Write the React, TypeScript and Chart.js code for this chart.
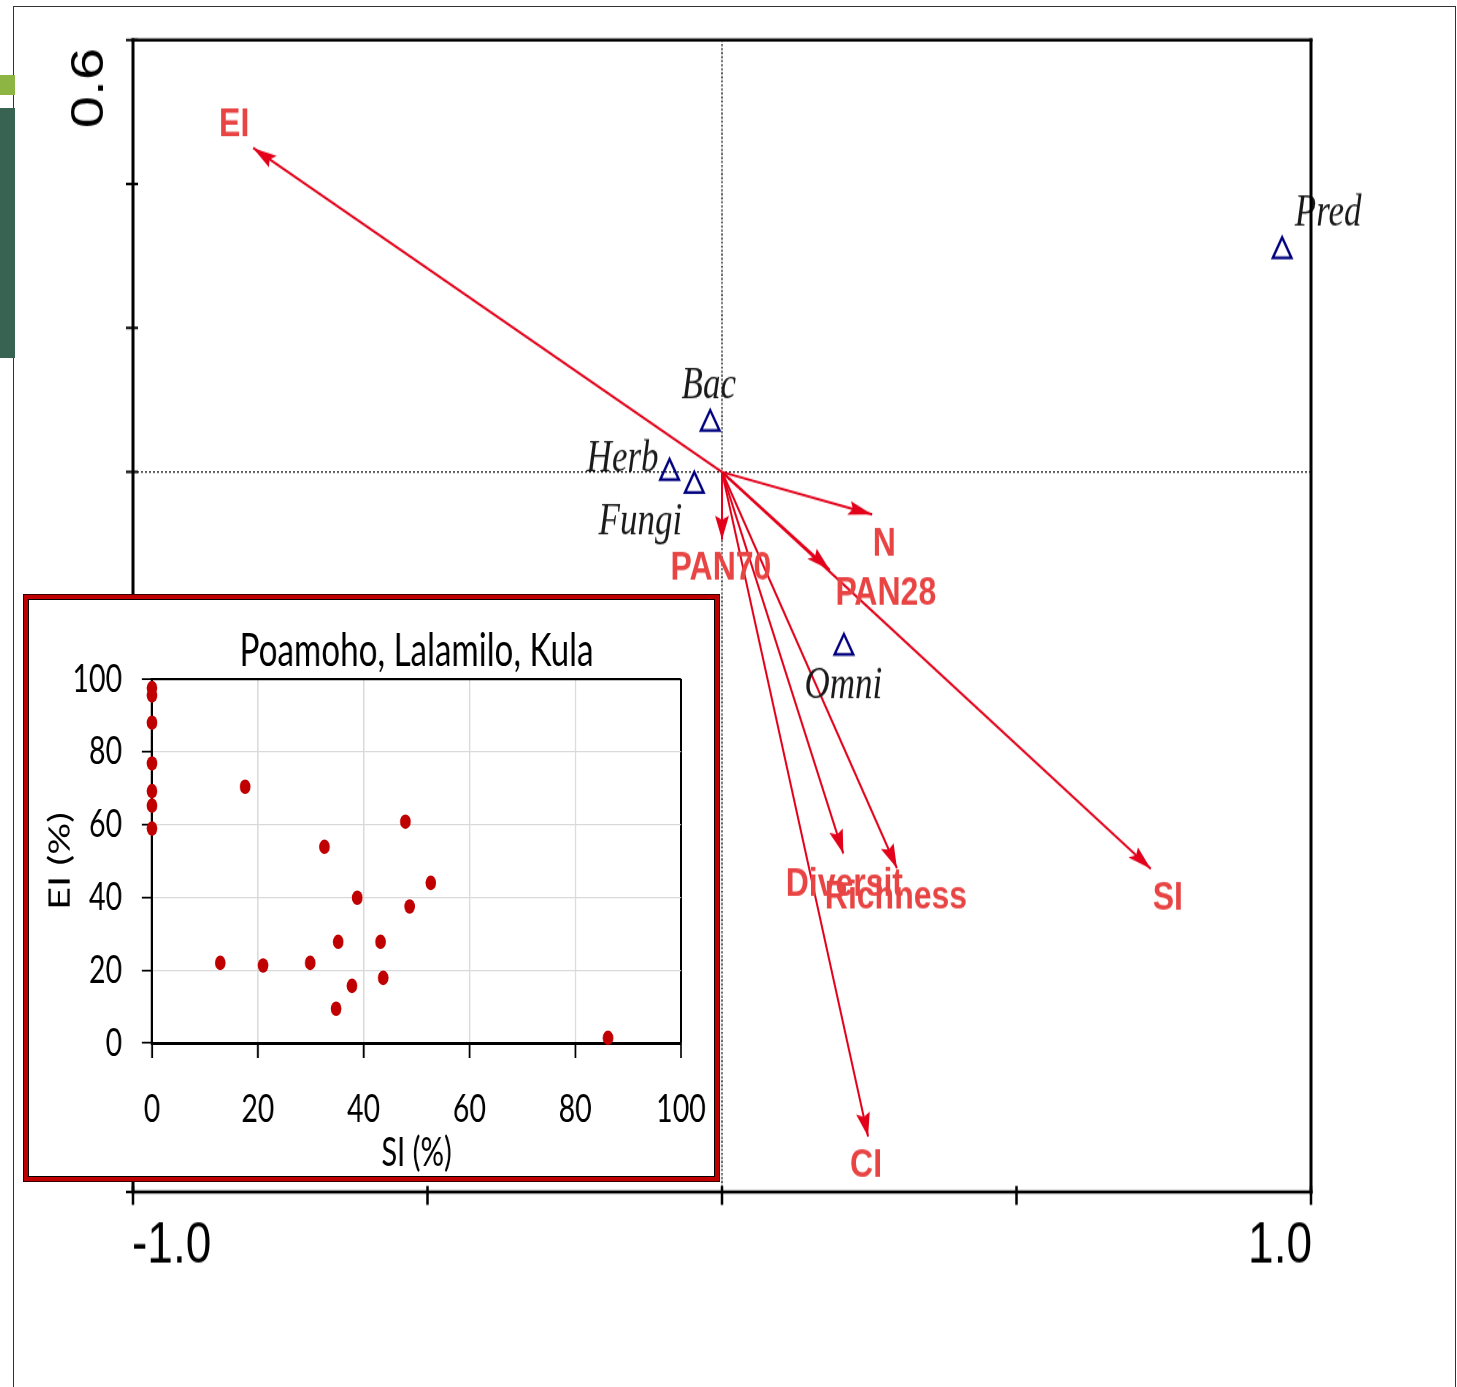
import React, { useEffect, useRef } from 'react';
import { Chart, registerables } from 'chart.js';

Chart.register(...registerables);

// ---------------- DATA: main ordination biplot ----------------
const envLabels = ['EI', 'N', 'PAN70', 'PAN28', 'Diversit', 'Richness', 'SI', 'CI'];
const envX = [-0.796, 0.255, 0.0, 0.183, 0.206, 0.297, 0.728, 0.248];
const envY = [0.45, -0.059, -0.094, -0.136, -0.53, -0.55, -0.551, -0.923];

const speciesLabels = ['Pred', 'Bac', 'Herb', 'Fungi', 'Omni'];
const speciesX = [0.951, -0.02, -0.089, -0.047, 0.207];
const speciesY = [0.307, 0.067, -0.001, -0.019, -0.244];

const mainXTicks = [-1, -0.5, 0, 0.5, 1];
const mainXTickLabels = ['-1.0', '', '', '', '1.0'];
const mainYTicks = [0.6, 0.4, 0.2, 0, -0.2, -0.4, -0.6, -0.8, -1.0];
const mainYTickLabels = ['0.6', '', '', '', '', '', '', '', ''];

// ---------------- DATA: inset scatter ----------------
const insetTitle = 'Poamoho, Lalamilo, Kula';
const insetXTitle = 'SI (%)';
const insetYTitle = 'EI (%)';
const insetTicks = [0, 20, 40, 60, 80, 100];
const insetSI = [0, 0, 0, 0, 0, 0, 0, 17.6, 32.6, 47.9, 52.7, 38.8, 48.7, 35.2, 43.2, 12.9, 21.0, 29.9, 43.7, 37.8, 34.8, 86.2];
const insetEI = [97.5, 95.5, 88.0, 76.8, 69.2, 65.2, 58.9, 70.4, 53.9, 60.8, 44.0, 39.9, 37.5, 27.8, 27.8, 22.0, 21.3, 22.0, 17.9, 15.7, 9.4, 1.4];

// ---------------- LAYOUT / STYLE ----------------
const PAGE_W = 1457;
const PAGE_H = 1387;
const MS = 1.26; // vertical stretch of the main picture
const MAIN_H = Math.round(PAGE_H / MS);

const ARROW_RED = '#e2001a';
const LABEL_RED = '#e84444';
const NAVY = '#00007f';

// label offsets in page pixels (from arrow tip / triangle centre to text anchor, baseline)
const envLabelOffsets: Record<string, [number, number]> = {
  EI: [-19, -12],
  N: [12, 41],
  PAN70: [-1, 40],
  PAN28: [56, 35],
  Diversit: [1, 42],
  Richness: [-1, 40],
  SI: [17, 41],
  CI: [-2, 40],
};
const speciesLabelOffsets: Record<string, [number, number]> = {
  Pred: [46, -25],
  Bac: [-1.5, -26],
  Herb: [-47, -1],
  Fungi: [-54, 49],
  Omni: [-0.5, 50],
};

const IX = 0.73; // horizontal squeeze of the inset picture
const INSET_LEFT = 28;
const INSET_TOP = 599;
const INSET_VIS_W = 687;
const INSET_H = 578;
const INSET_W = Math.round(INSET_VIS_W / IX);
const INSET_PLOT_LEFT = (152 - INSET_LEFT) / IX;
const INSET_PLOT_RIGHT = (681 - INSET_LEFT) / IX;
const INSET_PLOT_TOP = 679 - INSET_TOP;
const INSET_PLOT_BOTTOM = 1043 - INSET_TOP;
const INSET_FONT = 'Lato, "Open Sans", sans-serif';

const biplotPlugin = {
  id: 'biplot',
  beforeDatasetsDraw(chart: any) {
    const { ctx, chartArea } = chart;
    const xs = chart.scales.x;
    const ys = chart.scales.y;
    const x0 = xs.getPixelForValue(0);
    const y0 = ys.getPixelForValue(0);
    ctx.save();
    ctx.strokeStyle = '#000';
    ctx.lineWidth = 1.1;
    ctx.setLineDash([2, 2]);
    ctx.beginPath();
    ctx.moveTo(chartArea.left, y0);
    ctx.lineTo(chartArea.right, y0);
    ctx.stroke();
    ctx.lineWidth = 1.3;
    ctx.setLineDash([1.6, 1.6]);
    ctx.beginPath();
    ctx.moveTo(x0, chartArea.top);
    ctx.lineTo(x0, chartArea.bottom);
    ctx.stroke();
    ctx.restore();
  },
  afterDatasetsDraw(chart: any) {
    const { ctx } = chart;
    const xs = chart.scales.x;
    const ys = chart.scales.y;
    const ox = xs.getPixelForValue(0);
    const oy = ys.getPixelForValue(0);
    ctx.save();
    ctx.setLineDash([]);

    // arrow heads
    ctx.fillStyle = ARROW_RED;
    envLabels.forEach((name, i) => {
      const tx = xs.getPixelForValue(envX[i]);
      const ty = ys.getPixelForValue(envY[i]);
      const dx = tx - ox;
      const dy = (ty - oy) * MS;
      const len = Math.hypot(dx, dy) || 1;
      const ux = dx / len;
      const uy = dy / len;
      const L = 24;
      const W = 7;
      const bx = tx - ux * L;
      const byp = ty * MS - uy * L;
      ctx.beginPath();
      ctx.moveTo(tx, ty);
      ctx.lineTo(bx - uy * W, (byp + ux * W) / MS);
      ctx.lineTo(bx + ux * 4, (byp + uy * 4) / MS);
      ctx.lineTo(bx + uy * W, (byp - ux * W) / MS);
      ctx.closePath();
      ctx.fill();
    });

    // env labels
    ctx.font = 'bold 32px "Liberation Sans", Arial, sans-serif';
    ctx.fillStyle = LABEL_RED;
    ctx.textAlign = 'center';
    ctx.textBaseline = 'alphabetic';
    envLabels.forEach((name, i) => {
      const tx = xs.getPixelForValue(envX[i]);
      const ty = ys.getPixelForValue(envY[i]);
      const off = envLabelOffsets[name] || [0, 0];
      ctx.fillText(name, tx + off[0], ty + off[1] / MS);
    });

    // species labels
    ctx.font = 'italic 35px "Liberation Serif", "Times New Roman", serif';
    ctx.fillStyle = '#1a1a1a';
    speciesLabels.forEach((name, i) => {
      const px = xs.getPixelForValue(speciesX[i]);
      const py = ys.getPixelForValue(speciesY[i]);
      const off = speciesLabelOffsets[name] || [0, 0];
      ctx.fillText(name, px + off[0], py + off[1] / MS);
    });

    // frame
    const L = xs.getPixelForValue(xs.min);
    const R = xs.getPixelForValue(xs.max);
    const T = ys.getPixelForValue(ys.max);
    const B = ys.getPixelForValue(ys.min);
    ctx.strokeStyle = '#000';
    ctx.lineWidth = 3;
    ctx.beginPath();
    ctx.moveTo(L, T - 1.5 / MS);
    ctx.lineTo(L, B + 1.5 / MS);
    ctx.moveTo(R, T - 1.5 / MS);
    ctx.lineTo(R, B + 1.5 / MS);
    ctx.stroke();
    ctx.lineWidth = 3 / MS;
    ctx.beginPath();
    ctx.moveTo(L - 1.5, T);
    ctx.lineTo(R + 1.5, T);
    ctx.moveTo(L - 1.5, B);
    ctx.lineTo(R + 1.5, B);
    ctx.stroke();

    // ticks
    ctx.lineWidth = 2.5 / MS;
    ctx.beginPath();
    mainYTicks.forEach((v) => {
      const y = ys.getPixelForValue(v);
      ctx.moveTo(L - 7, y);
      ctx.lineTo(L + 5, y);
    });
    ctx.stroke();
    ctx.lineWidth = 2.5;
    ctx.beginPath();
    mainXTicks.forEach((v) => {
      const x = xs.getPixelForValue(v);
      ctx.moveTo(x, B - 6 / MS);
      ctx.lineTo(x, B + 13 / MS);
    });
    ctx.stroke();

    // tick labels
    ctx.fillStyle = '#000';
    ctx.font = '46px "Liberation Sans", Arial, sans-serif';
    mainYTicks.forEach((v, i) => {
      const lab = mainYTickLabels[i];
      if (!lab) return;
      const y = ys.getPixelForValue(v);
      ctx.save();
      ctx.translate(L - 43, y + 48 / MS);
      ctx.rotate(-Math.PI / 2);
      ctx.textAlign = 'center';
      ctx.textBaseline = 'middle';
      ctx.fillText(lab, 0, 0);
      ctx.restore();
    });
    ctx.textBaseline = 'alphabetic';
    mainXTicks.forEach((v, i) => {
      const lab = mainXTickLabels[i];
      if (!lab) return;
      const x = xs.getPixelForValue(v);
      ctx.textAlign = v === xs.min ? 'left' : v === xs.max ? 'right' : 'center';
      ctx.fillText(lab, x + (v === xs.min ? -1 : v === xs.max ? 1 : 0), B + 71 / MS);
    });
    ctx.restore();
  },
};

function mainConfig(): any {
  const arrowDatasets = envLabels.map((name, i) => ({
    label: name,
    data: [
      { x: 0, y: 0 },
      { x: envX[i], y: envY[i] },
    ],
    showLine: true,
    borderColor: ARROW_RED,
    backgroundColor: ARROW_RED,
    borderWidth: 2,
    pointRadius: 0,
    pointHoverRadius: 0,
    clip: false,
  }));
  const speciesDataset = {
    label: 'species',
    data: speciesX.map((x, i) => ({ x, y: speciesY[i] })),
    showLine: false,
    pointStyle: 'triangle',
    pointRadius: 10.8,
    pointHoverRadius: 10.8,
    borderColor: NAVY,
    backgroundColor: 'rgba(255,255,255,0)',
    borderWidth: 2.3,
    pointBorderWidth: 2.3,
    clip: false,
  };
  return {
    type: 'scatter',
    data: { datasets: [...arrowDatasets, speciesDataset] },
    options: {
      animation: false,
      responsive: false,
      events: [],
      layout: {
        padding: {
          left: 133,
          right: PAGE_W - 1311,
          top: 40 / MS,
          bottom: MAIN_H - 1192 / MS,
        },
      },
      plugins: {
        legend: { display: false },
        tooltip: { enabled: false },
        title: { display: false },
      },
      scales: {
        x: { type: 'linear', display: false, min: -1, max: 1 },
        y: { type: 'linear', display: false, min: -1, max: 0.6 },
      },
    },
    plugins: [biplotPlugin],
  };
}

function insetConfig(): any {
  const tickFont = { family: INSET_FONT, size: 39, weight: 'normal' };
  const titleFont = { family: INSET_FONT, size: 40, weight: 'normal' };
  const edge = (v: number) => v === insetTicks[0] || v === insetTicks[insetTicks.length - 1];
  return {
    type: 'scatter',
    data: {
      datasets: [
        {
          label: 'sites',
          data: insetSI.map((x, i) => ({ x, y: insetEI[i] })),
          pointRadius: 7.3,
          pointHoverRadius: 7.3,
          backgroundColor: '#c00000',
          borderColor: '#c00000',
          borderWidth: 0,
          clip: false,
        },
      ],
    },
    options: {
      animation: false,
      responsive: false,
      events: [],
      layout: { padding: { left: 0, right: INSET_W - INSET_PLOT_RIGHT, top: 0, bottom: 0 } },
      plugins: {
        legend: { display: false },
        tooltip: { enabled: false },
        title: {
          display: true,
          text: insetTitle,
          fullSize: false,
          color: '#000',
          font: { family: INSET_FONT, size: 45.5, weight: 'normal' },
          padding: { top: INSET_PLOT_TOP - 45.5 * 1.2, bottom: 0 },
        },
      },
      scales: {
        x: {
          type: 'linear',
          min: 0,
          max: 100,
          afterBuildTicks: (s: any) => {
            s.ticks = insetTicks.map((v) => ({ value: v }));
          },
          afterFit: (s: any) => {
            s.height = INSET_H - INSET_PLOT_BOTTOM;
            s.paddingLeft = 0;
            s.paddingRight = 0;
          },
          ticks: { font: tickFont, color: '#000', padding: 28, maxRotation: 0 },
          grid: {
            color: (c: any) => (c.tick && edge(c.tick.value) ? '#000' : '#d9d9d9'),
            lineWidth: (c: any) => (c.tick && c.tick.value === 100 ? 3 : 1.8),
            tickColor: '#000',
            tickWidth: 2.5,
            tickLength: 15,
          },
          border: { display: true, color: '#000', width: 3 },
          title: { display: true, text: insetXTitle, color: '#000', font: titleFont, padding: { top: 0, bottom: 0 } },
        },
        y: {
          type: 'linear',
          min: 0,
          max: 100,
          afterBuildTicks: (s: any) => {
            s.ticks = insetTicks.map((v) => ({ value: v }));
          },
          afterFit: (s: any) => {
            s.width = INSET_PLOT_LEFT;
          },
          ticks: { font: tickFont, color: '#000', padding: 27 },
          grid: {
            color: (c: any) => (c.tick && edge(c.tick.value) ? '#000' : '#d9d9d9'),
            lineWidth: (c: any) => (c.tick && c.tick.value === 100 ? 2.3 : 1.3),
            tickColor: '#000',
            tickWidth: 1.8,
            tickLength: 14,
          },
          border: { display: true, color: '#000', width: 3 },
          title: { display: true, text: insetYTitle, color: '#000', font: titleFont, padding: { top: 20, bottom: 0 } },
        },
      },
    },
  };
}

export default function App() {
  const mainRef = useRef<HTMLCanvasElement>(null);
  const insetRef = useRef<HTMLCanvasElement>(null);

  useEffect(() => {
    const main = new Chart(mainRef.current as HTMLCanvasElement, mainConfig());
    const inset = new Chart(insetRef.current as HTMLCanvasElement, insetConfig());
    return () => {
      main.destroy();
      inset.destroy();
    };
  }, []);

  return (
    <div
      style={{
        position: 'absolute',
        left: 0,
        top: 0,
        width: PAGE_W,
        height: PAGE_H,
        overflow: 'hidden',
        background: '#fff',
      }}
    >
      <div
        style={{
          position: 'absolute',
          left: 13,
          top: 6,
          width: 1443,
          height: 1420,
          border: '1.5px solid #333',
          boxSizing: 'border-box',
        }}
      />
      <div style={{ position: 'absolute', left: 0, top: 75, width: 15, height: 20, background: '#8db543' }} />
      <div style={{ position: 'absolute', left: 0, top: 108, width: 15, height: 250, background: '#386352' }} />
      <canvas
        ref={mainRef}
        width={PAGE_W}
        height={MAIN_H}
        style={{
          position: 'absolute',
          left: 0,
          top: 0,
          transform: `scaleY(${MS})`,
          transformOrigin: '0 0',
        }}
      />
      <div
        style={{
          position: 'absolute',
          left: 24,
          top: 595,
          width: 695,
          height: 586,
          boxSizing: 'border-box',
          border: '4px solid #c00000',
          boxShadow: 'inset 0 0 0 1px #000, 0 0 0 1px #300',
          background: '#fff',
        }}
      >
        <div
          style={{
            position: 'absolute',
            left: 0,
            top: 0,
            width: INSET_VIS_W,
            height: INSET_H,
            overflow: 'hidden',
          }}
        >
          <canvas
            ref={insetRef}
            width={INSET_W}
            height={INSET_H}
            style={{
              position: 'absolute',
              left: 0,
              top: 0,
              transform: `scaleX(${IX})`,
              transformOrigin: '0 0',
            }}
          />
        </div>
      </div>
    </div>
  );
}
